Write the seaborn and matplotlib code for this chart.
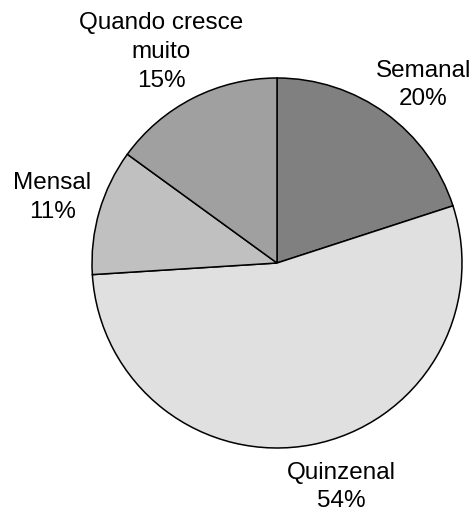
import matplotlib
matplotlib.use("Agg")
import matplotlib.pyplot as plt
import seaborn as sns
import numpy as np

# Data
categories = ["Semanal", "Quinzenal", "Mensal", "Quando cresce\nmuito"]
shares = [20, 54, 11, 15]
slice_colors = ["#808080", "#e0e0e0", "#c0c0c0", "#a0a0a0"]

# label placement tweaks (angle nudge in degrees, distance from centre in radii)
label_nudge = [-3.4, 5.2, 0.0, 1.8]
label_dist = [1.245, 1.26, 1.265, 1.30]

sns.set_theme(style="white")
plt.rcParams['font.family'] = ['Liberation Sans', 'DejaVu Sans']

fig = plt.figure(figsize=(4.75, 5.15), dpi=100)
# axes sized so the pie (radius 1) spans ~370 px, centred near (277, 263)
ax = fig.add_axes([92 / 475, 67 / 515, 370 / 475, 370 / 515])

labels = [f"{c}\n{v}%" for c, v in zip(categories, shares)]
wedges, texts = ax.pie(
    shares,
    labels=labels,
    colors=slice_colors,
    startangle=90,
    counterclock=False,
    labeldistance=1.26,
    wedgeprops=dict(edgecolor="black", linewidth=1.1),
    textprops=dict(fontsize=17.5, ha="center", va="center", color="black",
                   linespacing=1.4),
)

# put each label at its wedge's mid angle, with small nudges
for w, t, nd, d in zip(wedges, texts, label_nudge, label_dist):
    mid = np.deg2rad((w.theta1 + w.theta2) / 2 + nd)
    t.set_position((d * np.cos(mid), d * np.sin(mid)))

ax.set_xlim(-1, 1)
ax.set_ylim(-1, 1)
ax.set_aspect("equal")
ax.axis("off")

fig.savefig("out.png", dpi=100, facecolor="white")
